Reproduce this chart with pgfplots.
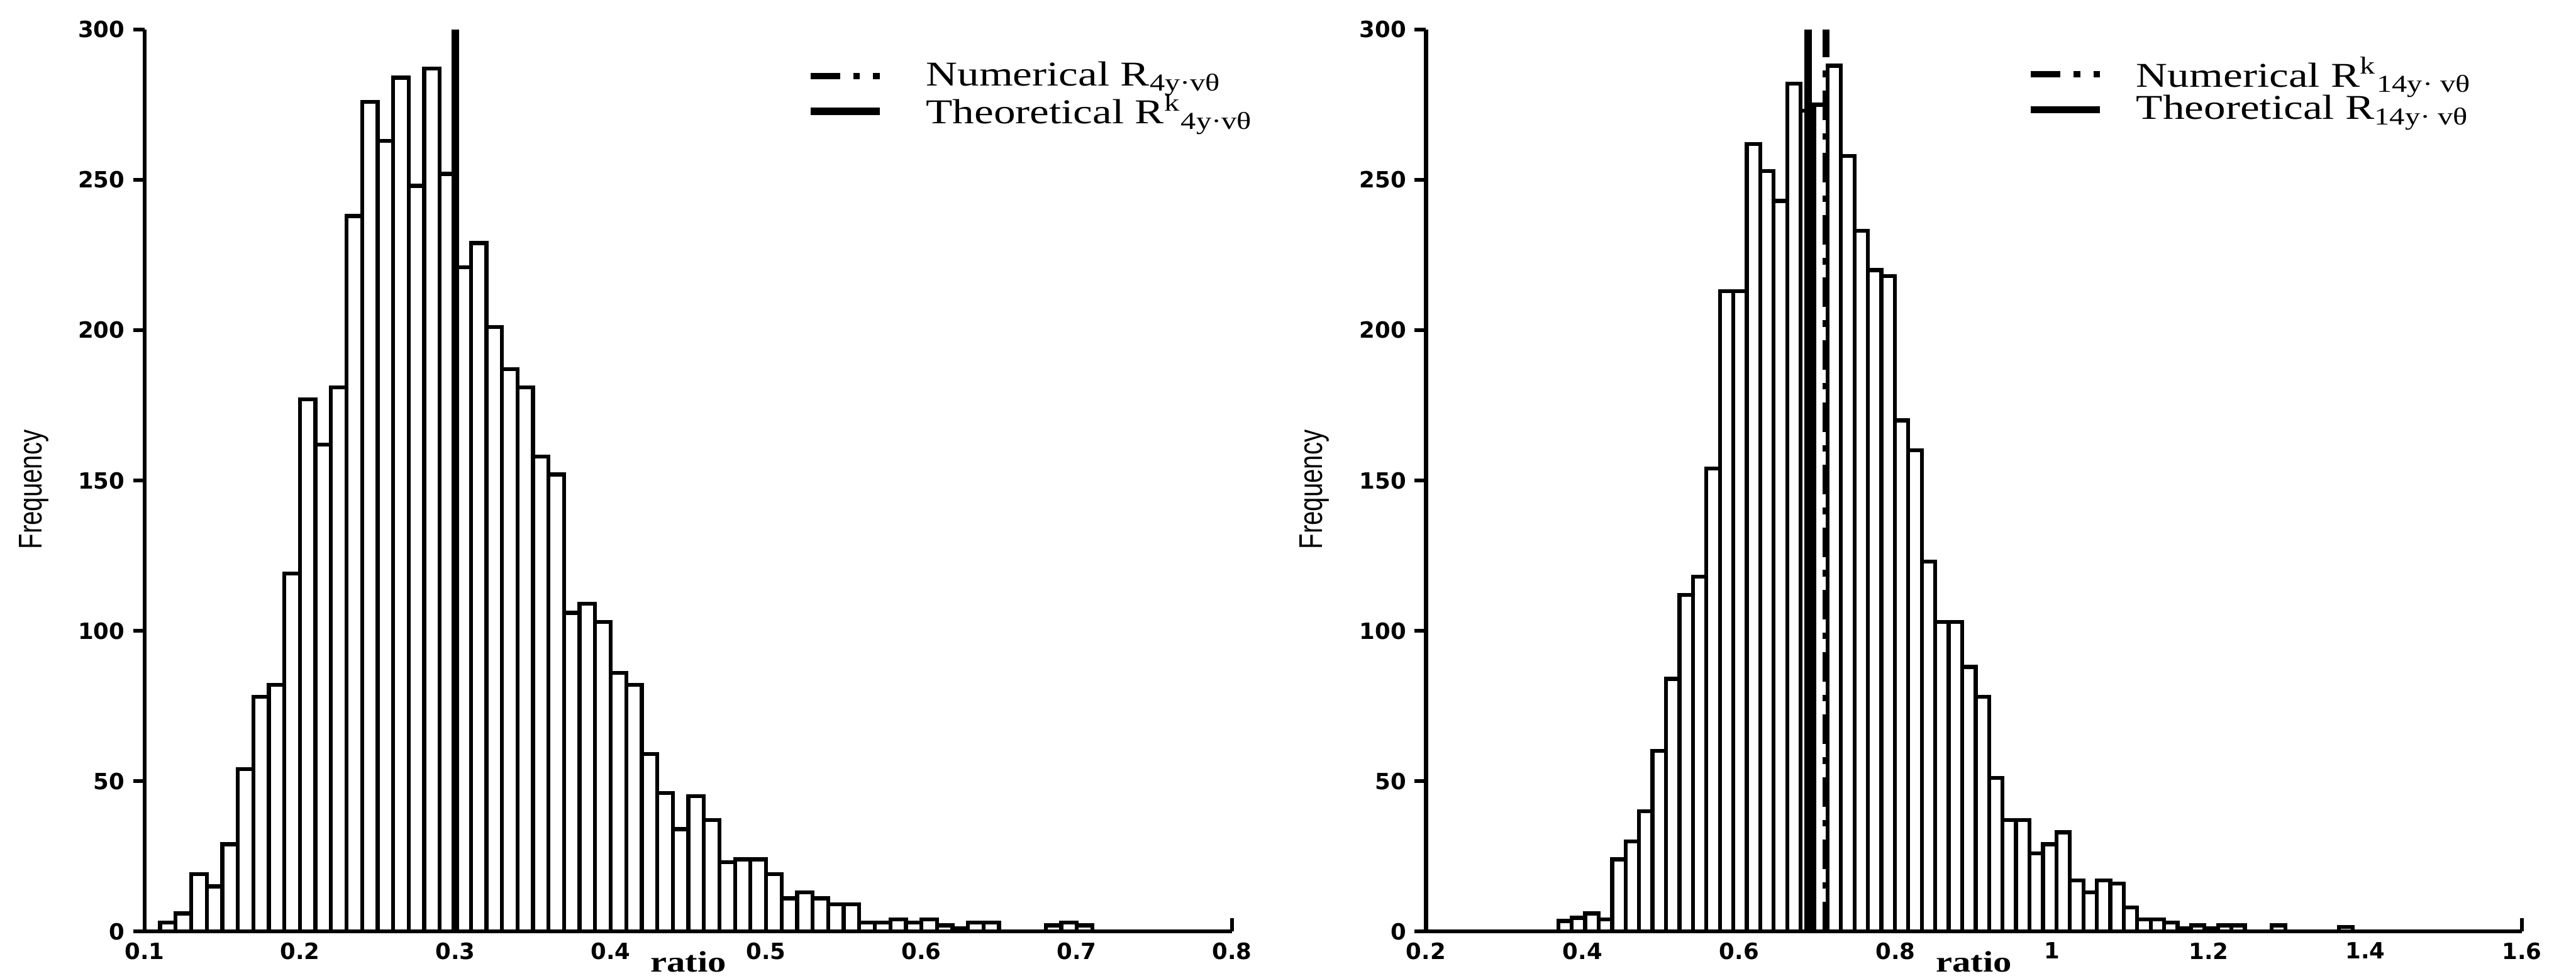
\documentclass[border=0pt]{standalone}
\usepackage{fontspec}
\setmainfont{Liberation Serif}
\newfontfamily\tickfont{DejaVu Sans}
\newfontfamily\labfont{Liberation Sans}
\newfontfamily\legfont[FakeStretch=1.25]{Liberation Serif}
\usepackage{pgfplots}
\pgfplotsset{compat=1.18}
\usepackage{pgfplotstable}

\pgfplotstableread{
x y
0.11 3
0.12 6
0.13 19
0.14 15
0.15 29
0.16 54
0.17 78
0.18 82
0.19 119
0.20 177
0.21 162
0.22 181
0.23 238
0.24 276
0.25 263
0.26 284
0.27 248
0.28 287
0.29 252
0.30 221
0.31 229
0.32 201
0.33 187
0.34 181
0.35 158
0.36 152
0.37 106
0.38 109
0.39 103
0.40 86
0.41 82
0.42 59
0.43 46
0.44 34
0.45 45
0.46 37
0.47 23
0.48 24
0.49 24
0.50 19
0.51 11
0.52 13
0.53 11
0.54 9
0.55 9
0.56 3
0.57 3
0.58 4
0.59 3
0.60 4
0.61 2
0.62 1
0.63 3
0.64 3
0.65 0
0.66 0
0.67 0
0.68 2
0.69 3
0.70 2
0.71 0
}\leftdata

\pgfplotstableread{
x y
0.3690 3.5
0.3862 4.5
0.4034 6
0.4206 4
0.4378 24
0.4550 30
0.4722 40
0.4894 60
0.5066 84
0.5238 112
0.5410 118
0.5582 154
0.5754 213
0.5926 213
0.6098 262
0.6270 253
0.6442 243
0.6614 282
0.6786 273
0.6958 275
0.7130 288
0.7302 258
0.7474 233
0.7646 220
0.7818 218
0.7990 170
0.8162 160
0.8334 123
0.8506 103
0.8678 103
0.8850 88
0.9022 78
0.9194 51
0.9366 37
0.9538 37
0.9710 26
0.9882 29
1.0054 33
1.0226 17
1.0398 13
1.0570 17
1.0742 16
1.0914 8
1.1086 4
1.1258 4
1.1430 3
1.1602 1
1.1774 2
1.1946 1
1.2118 2
1.2290 2
1.2462 0
1.2634 0
1.2806 2
1.2978 0
1.3150 0
1.3322 0
1.3494 0
1.3666 1.5
1.3838 0
}\rightdata

\pgfplotsset{
  hist/.style={
    scale only axis,
    height=274.5pt,
    axis x line*=bottom,
    axis y line*=left,
    axis line style={line width=1.2pt},
    ymin=0, ymax=300,
    ytick={0,50,100,150,200,250,300},
    tick align=outside,
    major tick length=3.5pt,
    ytick style={line width=1.1pt, black},
    xtick style={draw=none},
    enlargelimits=false,
    clip=false,
    /pgf/number format/assume math mode=true,
    tick label style={font=\tickfont\bfseries\fontsize{6.8}{7}\selectfont},
    x tick label style={yshift=3.6pt},
    y tick label style={xshift=1pt},
    ylabel={\scalebox{1}[1.3]{Frequency}},
    ylabel style={font=\labfont\fontsize{7.7}{8}\selectfont, at={(axis description cs:-0.102,0.49)}, anchor=center},
    xlabel={ratio},
    xlabel style={font=\legfont\bfseries\fontsize{9}{10}\selectfont, at={(axis description cs:0.5,0)}, anchor=center, yshift=-9.2pt},
    legend style={draw=none, fill=none, font=\legfont\fontsize{10.6}{11}\selectfont, row sep=-3pt},
    legend cell align=left,
    legend image code/.code={\draw[#1] (0pt,0pt) -- (21pt,0pt);},
  },
  numstyle/.style={black, line width=2pt, dash pattern=on 9pt off 4pt on 2pt off 4pt},
  theostyle/.style={black, line width=2.2pt},
  barstyle/.style={ybar interval, fill=white, draw=black, line width=1.2pt},
}

\begin{document}
\begin{tikzpicture}
\useasboundingbox (0,0) rectangle (784pt,297pt);
\begin{axis}[hist, at={(44pt,13.5pt)}, anchor=south west, width=331pt,
  xmin=0.1, xmax=0.8, xtick={0.1,0.2,0.3,0.4,0.5,0.6,0.7,0.8},
  legend style={at={(1.035,0.98)}, anchor=north east,
    /tikz/every odd column/.append style={column sep=11pt}}]
\addplot[barstyle, forget plot] table[x=x,y=y] {\leftdata};
\addplot[numstyle] coordinates {(0.3,0) (0.3,300)};
\addlegendentry{Numerical R\textsubscript{4y·vθ}}
\addplot[theostyle] coordinates {(0.3,0) (0.3,300)};
\addlegendentry{Theoretical R\textsuperscript{k}\textsubscript{4y·vθ}}
\draw[line width=1.2pt] (axis cs:0.8,0) -- ++(0pt,4pt);
\end{axis}
\begin{axis}[hist, at={(434pt,13.5pt)}, anchor=south west, width=333.5pt,
  xmin=0.2, xmax=1.6, xtick={0.2,0.4,0.6,0.8,1,1.2,1.4,1.6},
  legend style={at={(0.97,0.985)}, anchor=north east,
    /tikz/every odd column/.append style={column sep=8pt}}]
\addplot[barstyle, forget plot] table[x=x,y=y] {\rightdata};
\addplot[numstyle] coordinates {(0.711,0) (0.711,300)};
\addlegendentry{Numerical R\textsuperscript{k}\textsubscript{14y· vθ}}
\addplot[theostyle] coordinates {(0.688,0) (0.688,300)};
\addlegendentry{Theoretical R\textsubscript{14y· vθ}}
\draw[line width=1.2pt] (axis cs:1.6,0) -- ++(0pt,4pt);
\end{axis}
\end{tikzpicture}
\end{document}
